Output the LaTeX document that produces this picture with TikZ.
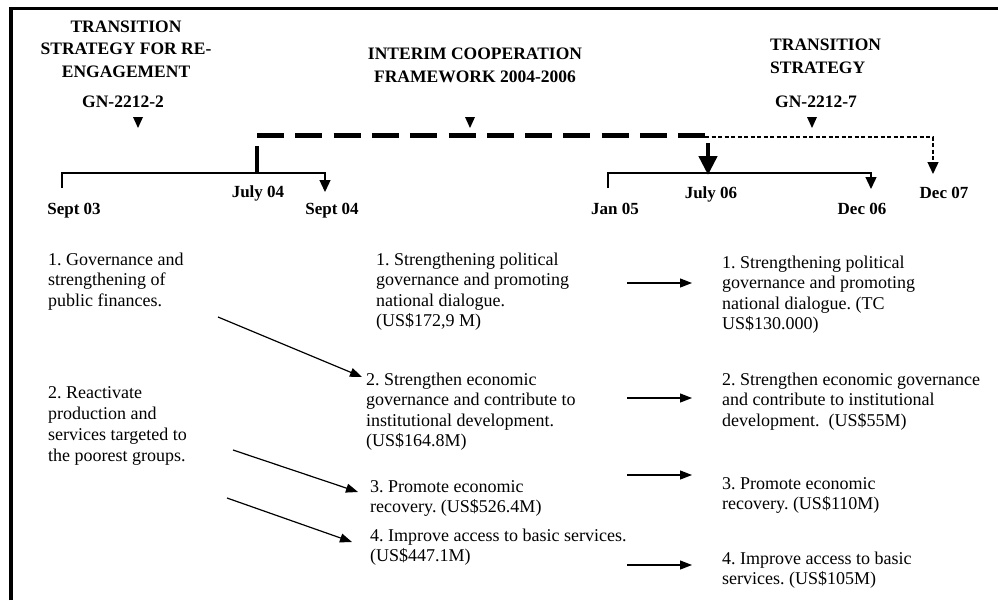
\documentclass[tikz,border=0pt]{standalone}
\usepackage{fontspec}
\setmainfont{Liberation Serif}
\usetikzlibrary{arrows.meta}
\frenchspacing

\begin{document}
\begin{tikzpicture}[x=1pt, y=-1pt,
    heading/.style={font=\fontsize{17.5}{22.5}\selectfont\bfseries, align=center, inner sep=0pt, anchor=base},
    datelabel/.style={font=\fontsize{17}{20}\selectfont\bfseries, inner sep=0pt, anchor=base},
    goal/.style={font=\fontsize{18}{20.5}\selectfont, align=left, inner sep=0pt, anchor=base west},
    bracket/.style={line width=1.3pt},
    tip/.style={-{Triangle[length=12pt, width=11pt]}},
    link/.style={line width=1.2pt, -{Triangle[length=12pt, width=9pt]}}]
  \useasboundingbox (0,0) rectangle (998,600);

  % The frame along the top and the left side
  \draw [line width=3.5pt] (11,600) -- (11,8.5) -- (998,8.5);

  % Strategy headings and their markers (placed by their last line)
  \node [heading] (tsre) at (126,77) {TRANSITION\\STRATEGY FOR RE-\\ENGAGEMENT};
  \node [heading] (gn2) at (123,107) {GN-2212-2};
  \node [heading] (icf) at (475,82) {INTERIM COOPERATION\\FRAMEWORK 2004-2006};
  \node [heading, anchor=base west, align=left] (ts) at (770,73) {TRANSITION\\STRATEGY};
  \node [heading] (gn7) at (816,107) {GN-2212-7};
  \foreach \x in {138, 470, 812} {
    \fill (\x,122) ++(-5,-5) -- ++(10,0) -- ++(-5,11) -- cycle;
  }

  % Points of the time line
  \coordinate (s03) at (62,188);
  \coordinate (l1) at (62,173);
  \coordinate (r1) at (325,173);
  \coordinate (s04) at (325,192);
  \coordinate (j04top) at (257,146);
  \coordinate (j04) at (257,173);
  \coordinate (dashL) at (257,135);
  \coordinate (dashR) at (705,135);
  \coordinate (j06top) at (708,143);
  \coordinate (j06) at (708,175);
  \coordinate (j05) at (608,188);
  \coordinate (l2) at (608,173);
  \coordinate (r2) at (871,173);
  \coordinate (d06) at (871,189);
  \coordinate (thinL) at (705,137);
  \coordinate (thinR) at (933,137);
  \coordinate (d07) at (933,174);

  % The two brackets, the interim period and the extension
  \draw [bracket, tip] (s03) -- (l1) -- (r1) -- (s04);
  \draw [bracket, tip] (j05) -- (l2) -- (r2) -- (d06);
  \draw [line width=4.5pt] (j04top) -- (j04);
  \draw [line width=5pt, dash pattern=on 27pt off 11.3pt] (dashL) -- (dashR);
  \draw [line width=4.5pt, -{Triangle[length=19pt, width=18pt]}] (j06top) -- (j06);
  \draw [bracket, dash pattern=on 4pt off 2.5pt, tip] (thinL) -- (thinR) -- (d07);

  % Dates
  \foreach \name/\x/\y/\lab in {s03t/74/214/Sept 03, j04t/258/197/July 04,
      s04t/332/214/Sept 04, j05t/615/214/Jan 05, j06t/711/198/July 06,
      d06t/862/214/Dec 06, d07t/944/198/Dec 07} {
    \node [datelabel] (\name) at (\x,\y) {\lab};
  }

  % Objectives of each period (placed by their last line)
  \node [goal] (a1) at (48,306) {1. Governance and\\strengthening of\\public finances.};
  \node [goal, font=\fontsize{18}{21}\selectfont] (a2) at (48,461) {2. Reactivate\\production and\\services targeted to\\the poorest groups.};
  \node [goal] (b1) at (376,326.5) {1. Strengthening political\\governance and promoting\\national dialogue.\\(US\$172,9 M)};
  \node [goal] (b2) at (366,446.5) {2. Strengthen economic\\governance and contribute to\\institutional development.\\(US\$164.8M)};
  \node [goal] (b3) at (370,512.5) {3. Promote economic\\recovery. (US\$526.4M)};
  \node [goal] (b4) at (370,561.5) {4. Improve access to basic services.\\(US\$447.1M)};
  \node [goal] (c1) at (722,329.5) {1. Strengthening political\\governance and promoting\\national dialogue. (TC\\US\$130.000)};
  \node [goal] (c2) at (722,426) {2. Strengthen economic governance\\and contribute to institutional\\development.\ \ (US\$55M)};
  \node [goal] (c3) at (722,509.5) {3. Promote economic\\recovery. (US\$110M)};
  \node [goal] (c4) at (722,584.5) {4. Improve access to basic\\services. (US\$105M)};

  % Arrows from the old objectives to the new ones
  \coordinate (a1out) at (218,317);
  \coordinate (b2in) at (362,377);
  \coordinate (a2out) at (233,450);
  \coordinate (b3in) at (358,492);
  \coordinate (a2low) at (227,498);
  \coordinate (b4in) at (352,542);
  \draw [link] (a1out) -- (b2in);
  \draw [link] (a2out) -- (b3in);
  \draw [link] (a2low) -- (b4in);
  \foreach \i/\y in {1/283, 2/398, 3/475, 4/565} {
    \coordinate (p\i) at (627,\y);
    \coordinate (q\i) at (692,\y);
    \draw [link] (p\i) -- (q\i);
  }
\end{tikzpicture}
\end{document}
